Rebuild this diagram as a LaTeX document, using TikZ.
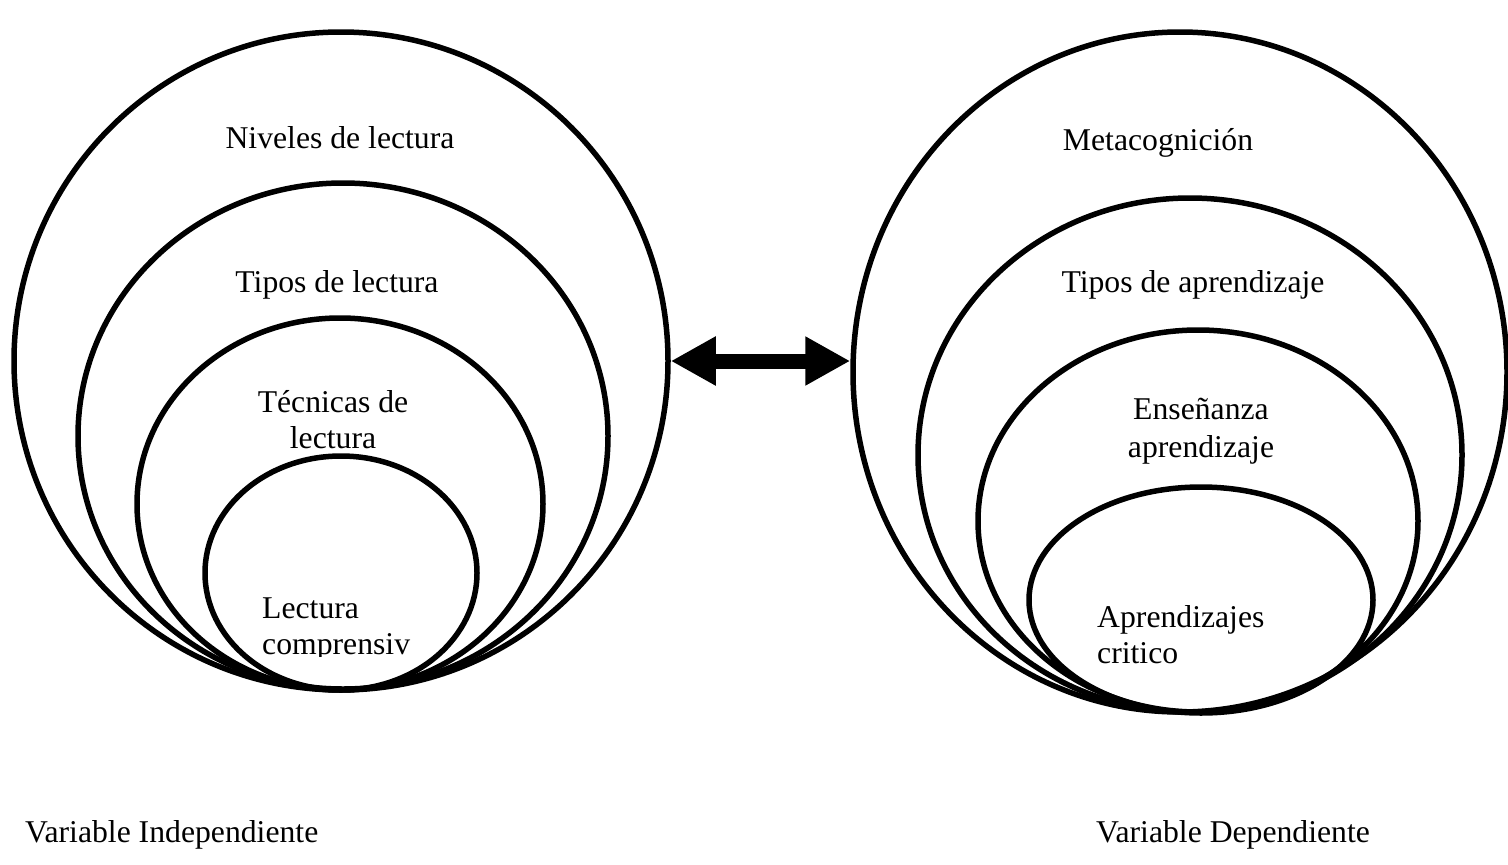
\documentclass[tikz,border=0pt]{standalone}
\usepackage{fontspec}
\setmainfont{Liberation Serif}
\usetikzlibrary{shapes.geometric,arrows.meta}

\begin{document}
\begin{tikzpicture}[x=1pt, y=-1pt,
    ring/.style={draw, ellipse, line width=5.5pt, inner sep=0pt},
    lbl/.style={font=\fontsize{31.7}{36}\selectfont, align=center, inner sep=0pt}]
    \useasboundingbox (0,0) rectangle (1508,865);
    % variable independiente
    \node[ring, minimum width=654pt, minimum height=658pt] (nivL) at (341,361) {};
    \node[ring, minimum width=530pt, minimum height=506pt] (tipL) at (343,436) {};
    \node[ring, minimum width=406pt, minimum height=372pt] (tecL) at (340,504) {};
    \node[ring, minimum width=272pt, minimum height=234pt] (comL) at (341,573) {};
    \node[lbl] (nivT) at (340,138) {Niveles de lectura};
    \node[lbl] (tipT) at (337,285) {Tipos de lectura};
    \node[lbl] (tecT) at (333,420) {Técnicas de\\lectura};
    \begin{scope}
        \clip (200,580) rectangle (480,656);
        \node[lbl, align=left, anchor=north west] (comT) at (262,598) {Lectura\\comprensiv};
    \end{scope}
    % variable dependiente
    \node[ring, minimum width=654pt, minimum height=680pt] (metR) at (1180,372) {};
    \node[ring, minimum width=544pt, minimum height=514pt] (tipR) at (1190,455) {};
    \node[ring, minimum width=440pt, minimum height=382pt] (ensR) at (1198,521) {};
    \node[ring, minimum width=344pt, minimum height=226pt] (criR) at (1201,600) {};
    \node[lbl] (metT) at (1158,143) {Metacognición};
    \node[lbl] (tipTR) at (1193,285) {Tipos de aprendizaje};
    \node[lbl, font=\fontsize{31.7}{38}\selectfont] (ensT) at (1201,431) {Enseñanza\\aprendizaje};
    \node[lbl, align=left, anchor=north west] (criT) at (1097,605) {Aprendizajes\\critico};
    % relacion
    \draw[line width=15pt, {Triangle[length=45pt,width=46pt]}-{Triangle[length=45pt,width=46pt]}]
        (nivL.east) -- (nivL.east -| metR.west);
    \node[lbl, anchor=west] (indT) at (25,835) {Variable Independiente};
    \node[lbl, anchor=west] (depT) at (1096,835) {Variable Dependiente};
\end{tikzpicture}
\end{document}
